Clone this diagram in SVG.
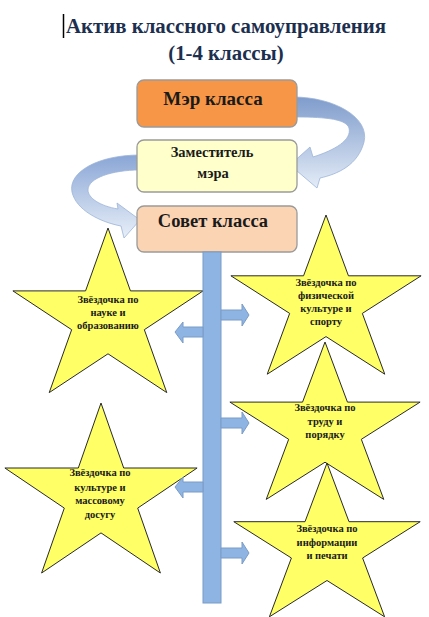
<svg xmlns="http://www.w3.org/2000/svg" width="429" height="617" viewBox="0 0 429 617">
<style>
.title{font-family:"Liberation Serif","Times New Roman",serif;font-weight:bold;font-size:20.8px;fill:#1c2f4f;text-anchor:middle}
.box{stroke:#9a9a9a;stroke-width:1.3}
.bt{font-family:"Liberation Serif","Times New Roman",serif;font-weight:bold;fill:#1a1a1a;text-anchor:middle}
.st{font-family:"Liberation Serif","Times New Roman",serif;font-weight:bold;font-size:10.5px;fill:#1a1a1a;text-anchor:middle}
.star{fill:#ffff66;stroke:#2a2a2a;stroke-width:1;stroke-linejoin:miter}
.blk{fill:#8eb4e3;stroke:#7a9cc6;stroke-width:1}
.curve{stroke:#9cb4d8;stroke-width:0.8}
</style>
<defs>
<linearGradient id="g1" x1="0" y1="0" x2="0" y2="1">
<stop offset="0" stop-color="#7f9ccc"/>
<stop offset="1" stop-color="#e4ecf7"/>
</linearGradient>
<linearGradient id="g2" x1="0" y1="0" x2="0" y2="1">
<stop offset="0" stop-color="#8aa6d6"/>
<stop offset="1" stop-color="#e8eff8"/>
</linearGradient>
</defs>
<rect width="429" height="617" fill="#ffffff"/>
<g id="title">
<line x1="63.5" y1="14" x2="63.5" y2="38" stroke="#000" stroke-width="1.5"/>
<text class="title" x="226" y="33">Актив классного самоуправления</text>
<text class="title" x="226" y="60">(1-4 классы)</text>
</g>
<g id="connectors-top">
<path class="curve" fill="url(#g1)" d="M293,97 C335,97 370,118 364,142 C358,165 338,174 320,178 L317,188 L290,165 L310,147 L313,157 C335,150 352,140 349,128 C346,118 320,117 293,117 Z"/>
<path class="curve" fill="url(#g2)" d="M140,155 C98,155 68,172 72,192 C76,210 100,222 121,226 L124,238 L140,220 L117,203 L118,209 C100,206 88,198 88,190 C88,178 112,170 140,170 Z"/>
</g>
<g id="mayor">
<rect class="box" x="137" y="80" width="160" height="47" rx="7" fill="#f79646"/>
<text class="bt" x="213" y="105" font-size="19">Мэр класса</text>
</g>
<g id="deputy">
<rect class="box" x="137" y="140" width="160" height="52" rx="7" fill="#ffffcc"/>
<text class="bt" x="212" y="157" font-size="14.5">Заместитель</text>
<text class="bt" x="213" y="178" font-size="14.5">мэра</text>
</g>
<g id="council">
<rect class="box" x="137" y="206" width="160" height="46" rx="7" fill="#fbd4b4"/>
<text class="bt" x="213" y="227" font-size="18.5">Совет класса</text>
</g>
<g id="star-science">
<polygon class="star" points="108,228 130.45,290.9 203.1,290.9 144.33,329.7 166.78,392.6 108,353.8 49.22,392.6 71.67,329.7 12.9,290.9 85.55,290.9"/>
<text class="st" x="108" y="303">Звёздочка по</text>
<text class="st" x="108" y="316">науке и</text>
<text class="st" x="108" y="329">образованию</text>
</g>
<g id="star-sport">
<polygon class="star" points="326,215 348.45,275.8 421.1,275.8 362.33,313.4 384.78,374.2 326,336.6 267.22,374.2 289.67,313.4 230.9,275.8 303.55,275.8"/>
<text class="st" x="326" y="286">Звёздочка по</text>
<text class="st" x="326" y="299">физической</text>
<text class="st" x="326" y="312">культуре и</text>
<text class="st" x="326" y="325">спорту</text>
</g>
<g id="star-labour">
<polygon class="star" points="325,342 347.45,402.1 420.1,402.1 361.33,439.3 383.78,499.4 325,462.2 266.22,499.4 288.67,439.3 229.9,402.1 302.55,402.1"/>
<text class="st" x="325" y="411">Звёздочка по</text>
<text class="st" x="325" y="425">труду и</text>
<text class="st" x="325" y="438">порядку</text>
</g>
<g id="star-info">
<polygon class="star" points="327,463 349,521.7 420.2,521.7 362.6,558 384.6,616.8 327,580.5 269.4,616.8 291.4,558 233.8,521.7 305,521.7"/>
<text class="st" x="327" y="532">Звёздочка по</text>
<text class="st" x="327" y="546">информации</text>
<text class="st" x="327" y="559">и печати</text>
</g>
<g id="star-culture">
<polygon class="star" points="101,403 123.7,468 197.1,468 137.7,508.1 160.4,573 101,532.9 41.6,573 64.3,508.1 4.9,468 78.3,468"/>
<text class="st" x="100" y="476">Звёздочка по</text>
<text class="st" x="100" y="491">культуре и</text>
<text class="st" x="100" y="504">массовому</text>
<text class="st" x="100" y="518">досугу</text>
</g>
<g id="connectors">
<rect class="blk" x="203" y="252" width="18" height="351"/>
<path class="blk" d="M221,310 L242,310 L242,304 L249,315 L242,326 L242,320 L221,320 Z"/>
<path class="blk" d="M221,418 L242,418 L242,412 L249,423 L242,434 L242,428 L221,428 Z"/>
<path class="blk" d="M221,548 L242,548 L242,542 L249,553 L242,564 L242,558 L221,558 Z"/>
<path class="blk" d="M203,327 L183,327 L183,322 L175,332 L183,343 L183,337 L203,337 Z"/>
<path class="blk" d="M203,482 L183,482 L183,477 L175,487 L183,498 L183,492 L203,492 Z"/>
</g>
</svg>
